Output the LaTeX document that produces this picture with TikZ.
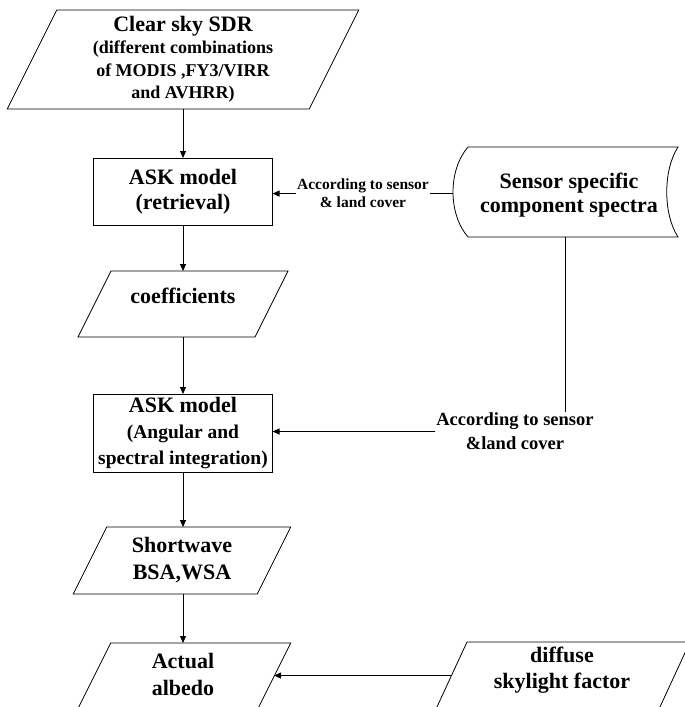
\documentclass[tikz,border=0pt]{standalone}
\usepackage{fontspec}
\setmainfont{Liberation Serif}
\usetikzlibrary{arrows.meta,calc}
\newcommand\fs[2]{\fontsize{#1}{#2}\selectfont}
\newcommand\paral[2]{\draw[ln] ([xshift=#2]#1.north west) -- ([xshift=#2]#1.north east) -- ([xshift=-#2]#1.south east) -- ([xshift=-#2]#1.south west) -- cycle;}
\tikzset{
  ln/.style={line width=0.8pt, draw=black},
  arr/.style={ln, -{Triangle[length=7pt,width=6pt]}},
  shp/.style={inner sep=0pt, outer sep=0pt, align=center, font=\bfseries\fs{22}{26}},
  rbox/.style={shp, draw, line width=0.8pt},
  lbl/.style={inner sep=1pt, outer sep=0pt, align=center},
}
\begin{document}
\begin{tikzpicture}[x=1pt,y=-1pt]
\clip (0,0) rectangle (685,707);
% top input
\node[shp, minimum width=302pt, minimum height=99pt, font=\bfseries\fs{18}{22.5}] (sdr) at (183,59.5)
  {{\fs{22}{22}Clear sky SDR}\\(different combinations\\of MODIS ,FY3/VIRR\\and AVHRR)};
\paral{sdr}{24.75pt}
% ASK retrieval
\node[rbox, minimum width=179pt, minimum height=67pt, font=\bfseries\fs{22}{25.5}] (ask1) at (183,191.5) {ASK model\\(retrieval)};
% coefficients
\node[shp, minimum width=177pt, minimum height=66pt] (coef) at (183,304) {};
\paral{coef}{16.5pt}
\node[shp] (coeft) at (183,296) {coefficients};
% ASK integration
\node[rbox, minimum width=179pt, minimum height=78pt, font=\bfseries\fs{19.5}{26}] (ask2) at (183,433)
  {{\fs{22}{22}ASK model}\\(Angular and\\spectral integration)};
% shortwave
\node[shp, minimum width=184pt, minimum height=67pt, font=\bfseries\fs{22}{27}] (sw) at (182,560.5) {Shortwave\\BSA,WSA};
\paral{sw}{16.75pt}
% actual albedo
\node[shp, minimum width=180pt, minimum height=67pt] (alb) at (184,676.5) {};
\paral{alb}{16.75pt}
\node[shp, font=\bfseries\fs{22}{27}] (albt) at (183,674) {Actual\\albedo};
% diffuse
\node[shp, minimum width=223pt, minimum height=67pt] (dif) at (563,675.5) {};
\paral{dif}{15.5pt}
\node[shp, font=\bfseries\fs{22}{26}] (dift) at (562,670) {diffuse\\skylight factor};
% sensor spectra (stored data)
\node[shp, minimum width=225pt, minimum height=90pt] (sen) at (565.5,192) {};
\draw[ln] (468,147) -- (678,147) .. controls (663,170) and (663,214) .. (678,237)
  -- (468,237) .. controls (448,214) and (448,170) .. (468,147) -- cycle;
\node[shp, font=\bfseries\fs{22}{24}] (sent) at (569,195) {Sensor specific\\component spectra};
% labels
\node[lbl, font=\bfseries\fs{15.5}{18}] (lab1) at (363,193.6) {According to sensor\\\& land cover};
\node[lbl, font=\bfseries\fs{18.5}{24}] (lab2) at (515,431.5) {According to sensor\\\&land cover};
% connectors
\draw[arr] (sdr.south) -- (ask1.north);
\draw[arr] (ask1.south) -- (coef.north);
\draw[arr] (coef.south) -- (ask2.north);
\draw[arr] (ask2.south) -- (ask2.south |- sw.north);
\draw[arr] (ask2.south |- sw.south) -- (ask2.south |- alb.north);
\draw[arr] (lab1.west) -- (lab1.west -| ask1.east);
\draw[ln] (lab1.east) -- (lab1.east -| sen.west);
\draw[ln] (sen.south) -- (sen.south |- lab2.north);
\draw[arr] (lab2.west) -- (lab2.west -| ask2.east);
\draw[arr] (dif.west) -- (dif.west -| alb.east);
\end{tikzpicture}
\end{document}
